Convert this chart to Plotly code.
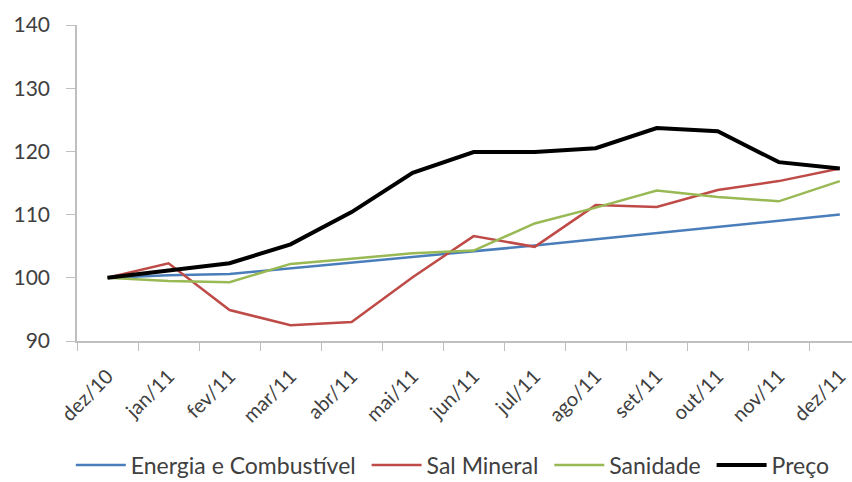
import plotly.graph_objects as go

months = ["dez/10", "jan/11", "fev/11", "mar/11", "abr/11", "mai/11", "jun/11",
          "jul/11", "ago/11", "set/11", "out/11", "nov/11", "dez/11"]
energia = [100, 100.4, 100.6, 101.5, 102.3, 103.2, 104.1, 105.1, 106.1, 107.1, 108.1, 109.1, 110.0]
sal = [100, 102.3, 94.9, 92.5, 93.0, 100.1, 106.6, 104.9, 111.5, 111.2, 113.9, 115.3, 117.3]
sanidade = [100, 99.5, 99.3, 102.2, 103.0, 103.9, 104.3, 108.6, 111.1, 113.8, 112.8, 112.1, 115.3]
preco = [100, 101.1, 102.3, 105.3, 110.4, 116.6, 119.9, 119.9, 120.5, 123.7, 123.2, 118.3, 117.3]

FONT = "Lato"
PAD = "\u00a0"
fig = go.Figure()
series = [
    ("Energia e Combustível", energia, "#4a7ebb", 2.5),
    ("Sal Mineral", sal, "#be4b48", 2.5),
    ("Sanidade", sanidade, "#98b954", 2.5),
    ("Preço", preco, "#000000", 4),
]
for name, vals, color, w in series:
    fig.add_trace(go.Scatter(x=months, y=vals, name=name + PAD, mode="lines",
                             line=dict(color=color, width=w)))

fig.update_layout(
    width=852, height=482,
    margin=dict(l=77, r=0, t=25, b=141, autoexpand=False),
    plot_bgcolor="white", paper_bgcolor="white",
    font=dict(family=FONT, color="#404040"),
    showlegend=True,
    legend=dict(orientation="h", x=0.535, xanchor="center", xref="container",
                y=0.035, yanchor="middle", yref="container",
                font=dict(size=23, color="#404040"),
                itemwidth=50, tracegroupgap=0),
)
fig.update_xaxes(
    type="category", range=[-0.5, 12.2], automargin=False,
    showline=True, linecolor="#bfbfbf", linewidth=1.5,
    ticks="outside", tickson="boundaries", ticklen=8, tickcolor="#bfbfbf",
    tickangle=-45, tickfont=dict(size=20, color="#404040"),
    ticklabelstandoff=14,
    showgrid=False, zeroline=False,
)
fig.update_yaxes(
    range=[90, 140], dtick=10, automargin=False,
    showline=True, linecolor="#bfbfbf", linewidth=1.5,
    ticks="outside", ticklen=9, tickcolor="#bfbfbf",
    tickfont=dict(size=21, color="#404040"),
    ticklabelstandoff=12,
    showgrid=False, zeroline=False,
)
fig.write_html("out.html")
